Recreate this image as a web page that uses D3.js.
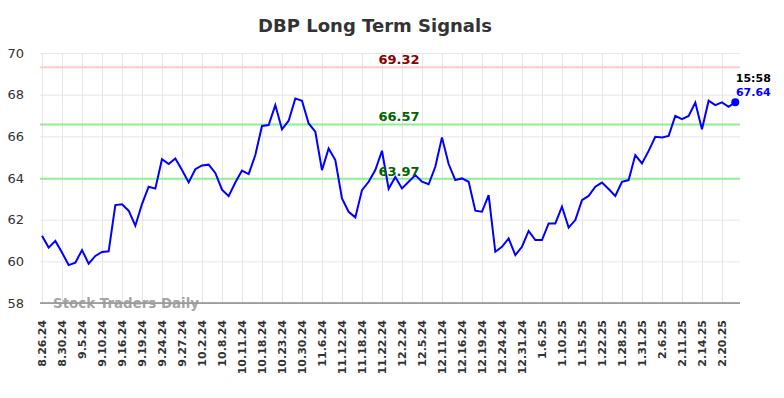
<!DOCTYPE html>
<html>
<head>
<meta charset="utf-8">
<script src="https://cdn.jsdelivr.net/npm/d3@7"></script>
<style>
  body { margin: 0; background: #fff; }
  svg { display: block; font-family: "DejaVu Sans", sans-serif; }
</style>
</head>
<body>
<div id="chart"></div>
<script>
// tick labels, one every 3 points
const tickLabels = ["8.26.24", "8.30.24", "9.5.24", "9.10.24", "9.16.24", "9.19.24", "9.24.24",
  "9.27.24", "10.2.24", "10.8.24", "10.11.24", "10.18.24", "10.23.24", "10.30.24", "11.6.24",
  "11.12.24", "11.18.24", "11.22.24", "12.2.24", "12.5.24", "12.11.24", "12.16.24", "12.19.24",
  "12.24.24", "12.31.24", "1.6.25", "1.10.25", "1.15.25", "1.22.25", "1.28.25", "1.31.25",
  "2.6.25", "2.11.25", "2.14.25", "2.20.25"];

// closing prices
const prices = [61.23, 60.66, 60.98, 60.42, 59.82, 59.93, 60.54, 59.89, 60.26, 60.45,
  60.48, 62.70, 62.74, 62.43, 61.71, 62.75, 63.58, 63.49, 64.90, 64.67,
  64.94, 64.38, 63.79, 64.42, 64.60, 64.64, 64.24, 63.44, 63.13, 63.78,
  64.36, 64.19, 65.10, 66.50, 66.54, 67.50, 66.34, 66.75, 67.82, 67.71,
  66.62, 66.22, 64.38, 65.42, 64.86, 63.02, 62.38, 62.11, 63.42, 63.82,
  64.38, 65.31, 63.48, 64.05, 63.50, 63.82, 64.14, 63.82, 63.70, 64.54,
  65.95, 64.67, 63.90, 63.98, 63.82, 62.43, 62.38, 63.18, 60.46, 60.70,
  61.10, 60.30, 60.70, 61.46, 61.02, 61.02, 61.82, 61.82, 62.62, 61.62,
  61.98, 62.94, 63.14, 63.58, 63.78, 63.47, 63.14, 63.82, 63.90, 65.10,
  64.70, 65.30, 65.98, 65.94, 66.02, 66.98, 66.83, 66.98, 67.62, 66.34,
  67.71, 67.50, 67.63, 67.42, 67.64];

// signal levels
const resistance = [69.32];
const supports = [66.57, 63.97];

const yTicks = [58, 60, 62, 64, 66, 68, 70];
const lastTime = "15:58";

const svgWidth = 784;
const svgHeight = 398;
const margin = { top: 53, right: 44, bottom: 95, left: 40 };
const width = svgWidth - margin.left - margin.right;
const height = svgHeight - margin.top - margin.bottom;

const svg = d3.select("#chart")
    .append("svg")
    .attr("width", svgWidth)
    .attr("height", svgHeight);

const chartGroup = svg.append("g")
    .attr("transform", `translate(${margin.left}, ${margin.top})`);

const xScale = d3.scaleLinear()
    .domain([0, prices.length - 1])
    .range([2, 695.3]);

const yScale = d3.scaleLinear()
    .domain([58, 70])
    .range([height, 0]);

const tickIdx = tickLabels.map((d, i) => i * 3);

// grid
chartGroup.append("g")
    .attr("class", "grid")
    .call(d3.axisLeft(yScale).tickValues(yTicks).tickSize(-width).tickFormat(""))
    .call(g => g.select(".domain").remove())
    .call(g => g.selectAll("line").attr("stroke", "#e6e6e6"));

chartGroup.append("g")
    .attr("class", "grid")
    .call(d3.axisBottom(xScale).tickValues(tickIdx).tickSize(height).tickFormat(""))
    .call(g => g.select(".domain").remove())
    .call(g => g.selectAll("line").attr("stroke", "#e6e6e6"));

// y labels
chartGroup.append("g")
    .call(d3.axisLeft(yScale).tickValues(yTicks).tickSize(0).tickPadding(16))
    .call(g => g.select(".domain").remove())
    .call(g => g.selectAll("text")
        .attr("font-size", "13px")
        .attr("font-family", "DejaVu Sans, sans-serif")
        .attr("fill", "#333"));

// x labels
chartGroup.append("g")
    .attr("transform", `translate(0, ${height})`)
    .call(d3.axisBottom(xScale).tickValues(tickIdx).tickSize(0).tickFormat((d, i) => tickLabels[i]))
    .call(g => g.select(".domain").remove())
    .call(g => g.selectAll("text")
        .attr("font-size", "11px")
        .attr("font-weight", "bold")
        .attr("font-family", "DejaVu Sans, sans-serif")
        .attr("fill", "#333")
        .attr("text-anchor", "end")
        .attr("transform", "rotate(-90)")
        .attr("x", -17)
        .attr("y", 0)
        .attr("dy", "0.35em"));

// bottom axis line
chartGroup.append("line")
    .attr("x1", 0).attr("x2", width)
    .attr("y1", height).attr("y2", height)
    .attr("stroke", "#555")
    .attr("stroke-width", 1.2);

// watermark
chartGroup.append("text")
    .attr("x", 13)
    .attr("y", height + 5)
    .attr("font-size", "13.4px")
    .attr("font-weight", "bold")
    .attr("fill", "#999")
    .attr("fill-opacity", 0.9)
    .text("Stock Traders Daily");

// signal lines
chartGroup.selectAll(".res")
    .data(resistance)
    .join("line")
    .attr("x1", 0).attr("x2", width)
    .attr("y1", d => yScale(d)).attr("y2", d => yScale(d))
    .attr("stroke", "#ffcccc")
    .attr("stroke-width", 2);

chartGroup.selectAll(".sup")
    .data(supports)
    .join("line")
    .attr("x1", 0).attr("x2", width)
    .attr("y1", d => yScale(d)).attr("y2", d => yScale(d))
    .attr("stroke", "#90ee90")
    .attr("stroke-width", 2);

// price line
const line = d3.line()
    .x((d, i) => xScale(i))
    .y(d => yScale(d));

chartGroup.append("path")
    .datum(prices)
    .attr("fill", "none")
    .attr("stroke", "#0000ff")
    .attr("stroke-width", 2)
    .attr("d", line);

// level labels
chartGroup.selectAll(".resLabel")
    .data(resistance)
    .join("text")
    .attr("x", 359)
    .attr("y", d => yScale(d) - 3)
    .attr("text-anchor", "middle")
    .attr("font-size", "13px")
    .attr("font-weight", "bold")
    .attr("fill", "#8b0000")
    .text(d => d.toFixed(2));

chartGroup.selectAll(".supLabel")
    .data(supports)
    .join("text")
    .attr("x", 359)
    .attr("y", d => yScale(d) - 3)
    .attr("text-anchor", "middle")
    .attr("font-size", "13px")
    .attr("font-weight", "bold")
    .attr("fill", "#006400")
    .text(d => d.toFixed(2));

// last point
const lastI = prices.length - 1;
const last = prices[lastI];
chartGroup.append("circle")
    .attr("cx", xScale(lastI))
    .attr("cy", yScale(last))
    .attr("r", 4)
    .attr("fill", "#0000ff");

chartGroup.append("text")
    .attr("x", xScale(lastI) + 18)
    .attr("y", yScale(last) - 20)
    .attr("text-anchor", "middle")
    .attr("font-size", "11px")
    .attr("font-weight", "bold")
    .attr("fill", "#000")
    .text(lastTime);

chartGroup.append("text")
    .attr("x", xScale(lastI) + 18)
    .attr("y", yScale(last) - 6)
    .attr("text-anchor", "middle")
    .attr("font-size", "11px")
    .attr("font-weight", "bold")
    .attr("fill", "#0000ff")
    .text(last.toFixed(2));

// title
svg.append("text")
    .attr("x", 375)
    .attr("y", 32)
    .attr("text-anchor", "middle")
    .attr("font-size", "18px")
    .attr("font-weight", "bold")
    .attr("fill", "#333")
    .text("DBP Long Term Signals");
</script>
</body>
</html>
